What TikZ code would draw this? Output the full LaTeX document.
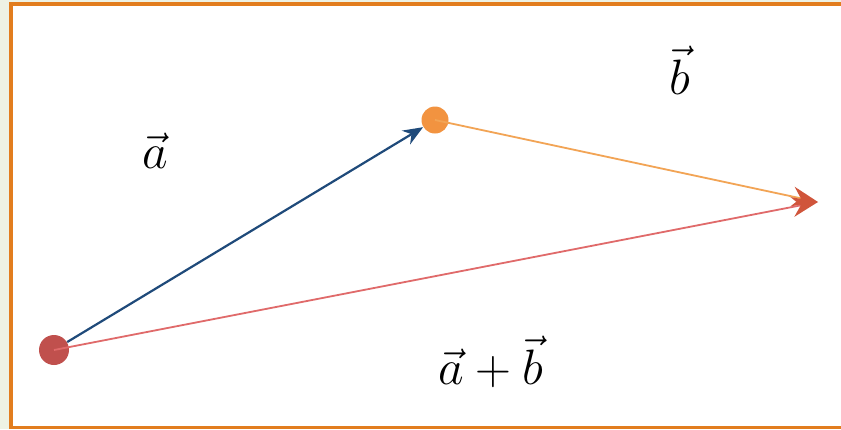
\documentclass[tikz,border=0pt]{standalone}
\usetikzlibrary{arrows.meta}

\definecolor{framebg}{HTML}{EEF2E4}
\definecolor{frameorange}{HTML}{E27D1E}
\definecolor{veca}{HTML}{1F4A7A}
\definecolor{vecb}{HTML}{F2A455}
\definecolor{vecsum}{HTML}{E06A6A}
\definecolor{dotred}{HTML}{C0504D}
\definecolor{dotorange}{HTML}{F29340}
\definecolor{tipred}{HTML}{D0553B}

\begin{document}
\begin{tikzpicture}[
  x=0.5pt, y=-0.5pt,
  %% pontos
  dot/.style={circle, inner sep=0pt, minimum size=#1},
  %% setas
  arr/.style={line width=1.1pt, -{Stealth[length=10pt,width=8pt]}},
  arrsum/.style={line width=0.9pt, -{Stealth[length=13pt,width=10pt]}},
  %% rótulos
  lbl/.style={font=\fontsize{28}{34}\selectfont, inner sep=0pt}
]

%% ================================================================
%% MOLDURA
%% ================================================================
\useasboundingbox (0,0) rectangle (841,429);
\clip (0,0) rectangle (841,429);
\fill[framebg] (0,0) rectangle (841,429);
\fill[frameorange] (9,2) rectangle (860,429);
\fill[white] (13,6) rectangle (860,426);

%% ================================================================
%% PONTOS
%% ================================================================
\node[dot=15pt, fill=dotred] (start) at (54,350) {};
\node[dot=13.5pt, fill=dotorange] (mid) at (435,120) {};
\coordinate (tip) at (818,202);

%% ================================================================
%% VETORES
%% ================================================================
\draw[arr, color=veca] (start) -- (mid);
\draw[arrsum, color=vecb, -{Stealth[length=13pt,width=10pt,color=tipred]}] (mid.center) -- (tip);
\draw[arrsum, color=vecsum, -{Stealth[length=13pt,width=10pt,color=tipred]}] (start.center) -- (tip);

%% ================================================================
%% RÓTULOS
%% ================================================================
\node[lbl] (la) at (155,151) {$\vec{a}$};
\node[lbl] (lb) at (680,70) {$\vec{b}$};
\node[lbl] (lab) at (491,362) {$\vec{a}+\vec{b}$};

\end{tikzpicture}
\end{document}
